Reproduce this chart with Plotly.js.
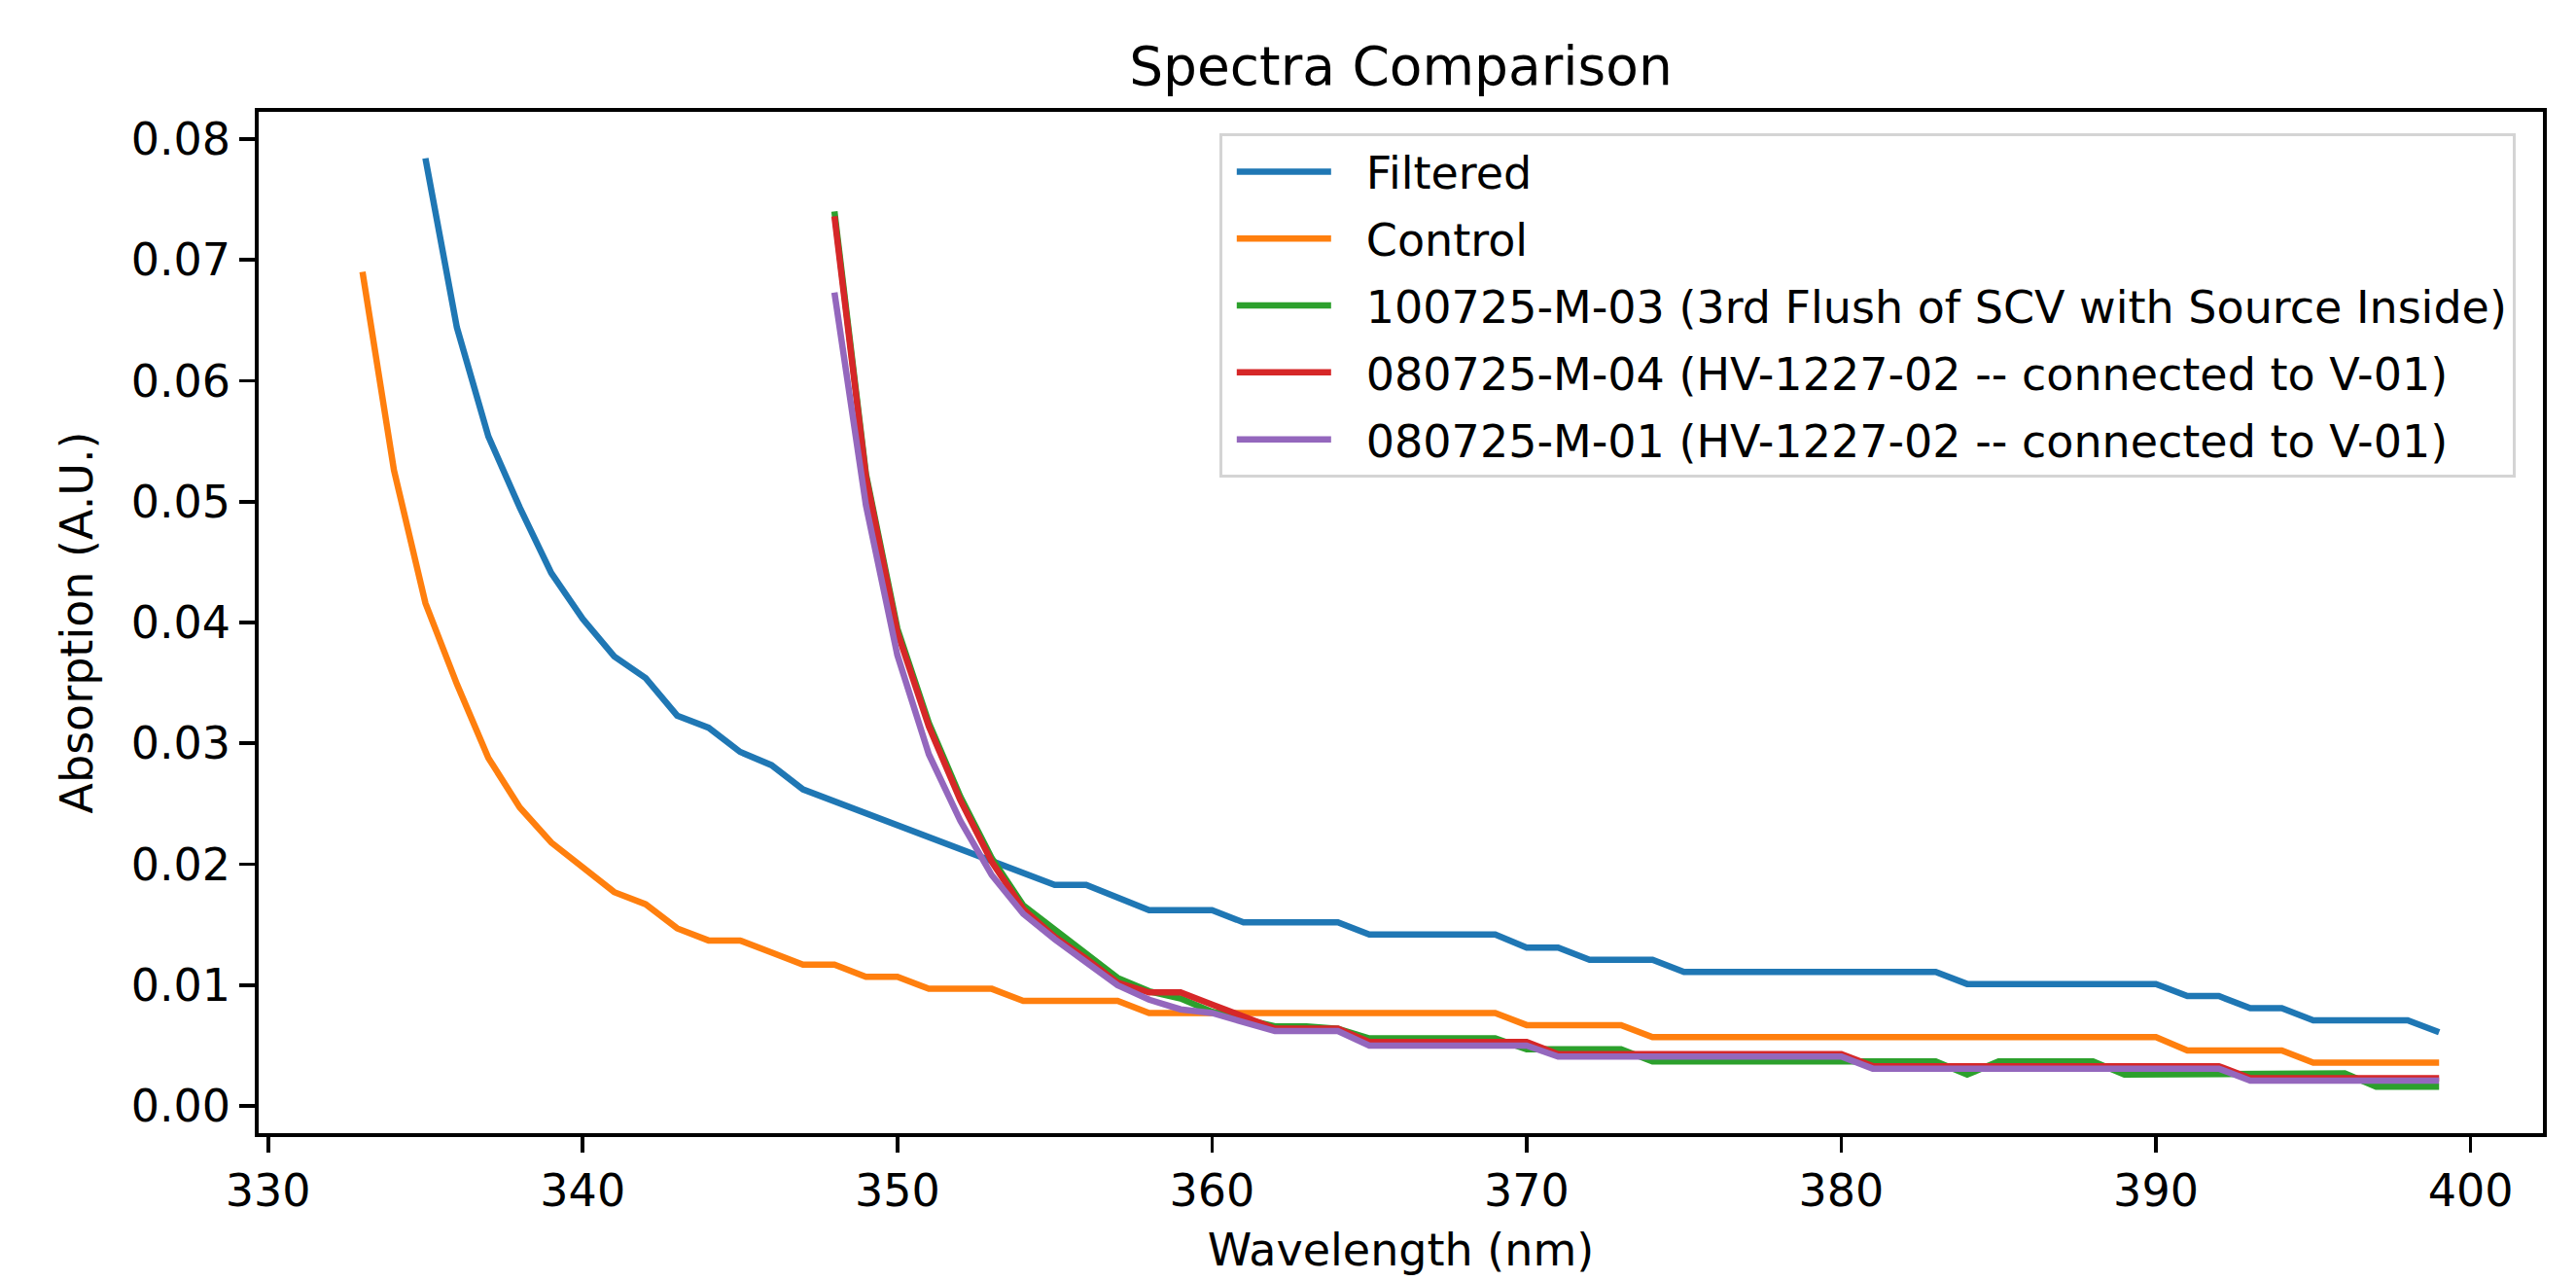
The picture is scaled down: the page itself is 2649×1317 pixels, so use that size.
<!DOCTYPE html>
<html>
<head>
<meta charset="utf-8">
<script src="https://cdn.plot.ly/plotly-3.0.1.min.js"></script>
<style>
  html, body { margin: 0; padding: 0; background: #ffffff; }
  #chart { width: 2649px; height: 1317px; }
</style>
</head>
<body>
<div id="chart"></div>
<script>
// Wavelengths (nm)
const wavelengths = [333, 334, 335, 336, 337, 338, 339, 340, 341, 342,
  343, 344, 345, 346, 347, 348, 349, 350, 351, 352,
  353, 354, 355, 356, 357, 358, 359, 360, 361, 362,
  363, 364, 365, 366, 367, 368, 369, 370, 371, 372,
  373, 374, 375, 376, 377, 378, 379, 380, 381, 382,
  383, 384, 385, 386, 387, 388, 389, 390, 391, 392,
  393, 394, 395, 396, 397, 398, 399];

const seriesNames = [
  "Filtered",
  "Control",
  "100725-M-03 (3rd Flush of SCV with Source Inside)",
  "080725-M-04 (HV-1227-02 -- connected to V-01)",
  "080725-M-01 (HV-1227-02 -- connected to V-01)"
];

// Filtered: 335 - 399
const filtered = [0.0784, 0.0644, 0.0554, 0.0495, 0.0441, 0.0403, 0.0372, 0.0354, 0.0323, 0.0313,
  0.0293, 0.0282, 0.0262, 0.0252, 0.0242, 0.0232, 0.0222, 0.0212, 0.0202, 0.0192,
  0.0183, 0.0183, 0.0173, 0.0162, 0.0162, 0.0162, 0.0152, 0.0152, 0.0152, 0.0152,
  0.0142, 0.0142, 0.0142, 0.0142, 0.0142, 0.0131, 0.0131, 0.0121, 0.0121, 0.0121,
  0.0111, 0.0111, 0.0111, 0.0111, 0.0111, 0.0111, 0.0111, 0.0111, 0.0111, 0.0101,
  0.0101, 0.0101, 0.0101, 0.0101, 0.0101, 0.0101, 0.0091, 0.0091, 0.0081, 0.0081,
  0.0071, 0.0071, 0.0071, 0.0071, 0.0061];

// Control: 333 - 399
const control = [0.0690, 0.0526, 0.0416, 0.0349, 0.0288, 0.0247, 0.0218, 0.0198, 0.0177, 0.0167,
  0.0147, 0.0137, 0.0137, 0.0127, 0.0117, 0.0117, 0.0107, 0.0107, 0.0097, 0.0097,
  0.0097, 0.0087, 0.0087, 0.0087, 0.0087, 0.0077, 0.0077, 0.0077, 0.0077, 0.0077,
  0.0077, 0.0077, 0.0077, 0.0077, 0.0077, 0.0077, 0.0077, 0.0067, 0.0067, 0.0067,
  0.0067, 0.0057, 0.0057, 0.0057, 0.0057, 0.0057, 0.0057, 0.0057, 0.0057, 0.0057,
  0.0057, 0.0057, 0.0057, 0.0057, 0.0057, 0.0057, 0.0057, 0.0057, 0.0046, 0.0046,
  0.0046, 0.0046, 0.0036, 0.0036, 0.0036, 0.0036, 0.0036];

// 100725-M-03: 348 - 399
const m03 = [0.0740, 0.0523, 0.0395, 0.0317, 0.0256, 0.0205, 0.0166, 0.0146, 0.0125, 0.0106,
  0.0095, 0.0089, 0.0078, 0.0072, 0.0066, 0.0066, 0.0064, 0.0056, 0.0056, 0.0056,
  0.0056, 0.0056, 0.0047, 0.0047, 0.0047, 0.0047, 0.0037, 0.0037, 0.0037, 0.0037,
  0.0037, 0.0037, 0.0037, 0.0037, 0.0037, 0.0037, 0.0026, 0.0037, 0.0037, 0.0037,
  0.0037, 0.0026, 0.0026, 0.0026, 0.0026, 0.0027, 0.0027, 0.0027, 0.0027, 0.0016,
  0.0016, 0.0016];

// 080725-M-04: 348 - 399
const m04 = [0.0736, 0.0521, 0.0392, 0.0314, 0.0253, 0.0202, 0.0163, 0.0140, 0.0122, 0.0102,
  0.0094, 0.0094, 0.0084, 0.0074, 0.0064, 0.0064, 0.0064, 0.0053, 0.0053, 0.0053,
  0.0053, 0.0053, 0.0053, 0.0043, 0.0043, 0.0043, 0.0043, 0.0043, 0.0043, 0.0043,
  0.0043, 0.0043, 0.0043, 0.0033, 0.0033, 0.0033, 0.0033, 0.0033, 0.0033, 0.0033,
  0.0033, 0.0033, 0.0033, 0.0033, 0.0033, 0.0023, 0.0023, 0.0023, 0.0023, 0.0023,
  0.0023, 0.0023];

// 080725-M-01: 348 - 399
const m01 = [0.0673, 0.0497, 0.0373, 0.0291, 0.0236, 0.0191, 0.0159, 0.0138, 0.0119, 0.0100,
  0.0088, 0.0080, 0.0077, 0.0070, 0.0062, 0.0062, 0.0062, 0.0050, 0.0050, 0.0050,
  0.0050, 0.0050, 0.0050, 0.0041, 0.0041, 0.0041, 0.0041, 0.0041, 0.0041, 0.0041,
  0.0041, 0.0041, 0.0041, 0.0031, 0.0031, 0.0031, 0.0031, 0.0031, 0.0031, 0.0031,
  0.0031, 0.0031, 0.0031, 0.0031, 0.0031, 0.0021, 0.0021, 0.0021, 0.0021, 0.0021,
  0.0021, 0.0021];

const xTicks = [330, 340, 350, 360, 370, 380, 390, 400];
const yTicks = [0.00, 0.01, 0.02, 0.03, 0.04, 0.05, 0.06, 0.07, 0.08];

const colors = ["#1f77b4", "#ff7f0e", "#2ca02c", "#d62728", "#9467bd"];

function xsFor(startNm, n) {
  const i = wavelengths.indexOf(startNm);
  return wavelengths.slice(i, i + n);
}

const seriesValues = [filtered, control, m03, m04, m01];
const seriesStart = [335, 333, 348, 348, 348];

const traces = seriesValues.map((vals, k) => ({
  type: "scatter",
  mode: "lines",
  name: seriesNames[k],
  legendgroup: "g" + k,
  x: xsFor(seriesStart[k], vals.length),
  y: vals,
  line: { color: colors[k], width: 6.5 }
}));

const FONT = "DejaVu Sans, Liberation Sans, sans-serif";

const layout = {
  width: 2649,
  height: 1317,
  paper_bgcolor: "#ffffff",
  plot_bgcolor: "#ffffff",
  margin: { l: 266, r: 34, t: 115, b: 152, pad: 0 },
  font: { family: FONT, size: 46, color: "#000000" },
  title: {
    text: "Spectra Comparison",
    font: { family: FONT, size: 55, color: "#000000" },
    x: 0.5, xref: "paper", xanchor: "center",
    y: 1 - 68 / 1317, yref: "container", yanchor: "middle"
  },
  showlegend: true,
  legend: {
    x: 0.988, xanchor: "right",
    y: 0.979, yanchor: "top",
    bgcolor: "rgba(255,255,255,0.8)",
    bordercolor: "#d4d4d4",
    borderwidth: 3,
    font: { family: FONT, size: 46, color: "#000000" },
    tracegroupgap: 6,
    itemwidth: 138
  },
  xaxis: {
    range: [329.7, 402.3],
    tickmode: "array",
    tickvals: xTicks,
    ticktext: xTicks.map(String),
    ticks: "outside",
    ticklen: 16,
    tickwidth: 3.7,
    tickcolor: "#000000",
    showline: true,
    linecolor: "#000000",
    linewidth: 3.7,
    mirror: true,
    showgrid: false,
    zeroline: false,
    tickfont: { family: FONT, size: 46, color: "#000000" },
    title: { text: "Wavelength (nm)", font: { family: FONT, size: 46, color: "#000000" }, standoff: 20 }
  },
  yaxis: {
    range: [-0.00224, 0.08224],
    tickmode: "array",
    tickvals: yTicks,
    ticktext: yTicks.map(v => v.toFixed(2)),
    ticks: "outside",
    ticklen: 16,
    tickwidth: 3.7,
    tickcolor: "#000000",
    showline: true,
    linecolor: "#000000",
    linewidth: 3.7,
    mirror: true,
    showgrid: false,
    zeroline: false,
    tickfont: { family: FONT, size: 46, color: "#000000" },
    title: { text: "Absorption (A.U.)", font: { family: FONT, size: 46, color: "#000000" }, standoff: 25 }
  }
};

Plotly.newPlot("chart", traces, layout, { staticPlot: true, displayModeBar: false }).then(function (gd) {
  // matplotlib-style legend handles: shorter line with a gap before the label
  gd.querySelectorAll(".legend .legendlines path, .legend path.js-line").forEach(function (p) {
    p.setAttribute("d", "M15,0h97");
  });
});
</script>
</body>
</html>
